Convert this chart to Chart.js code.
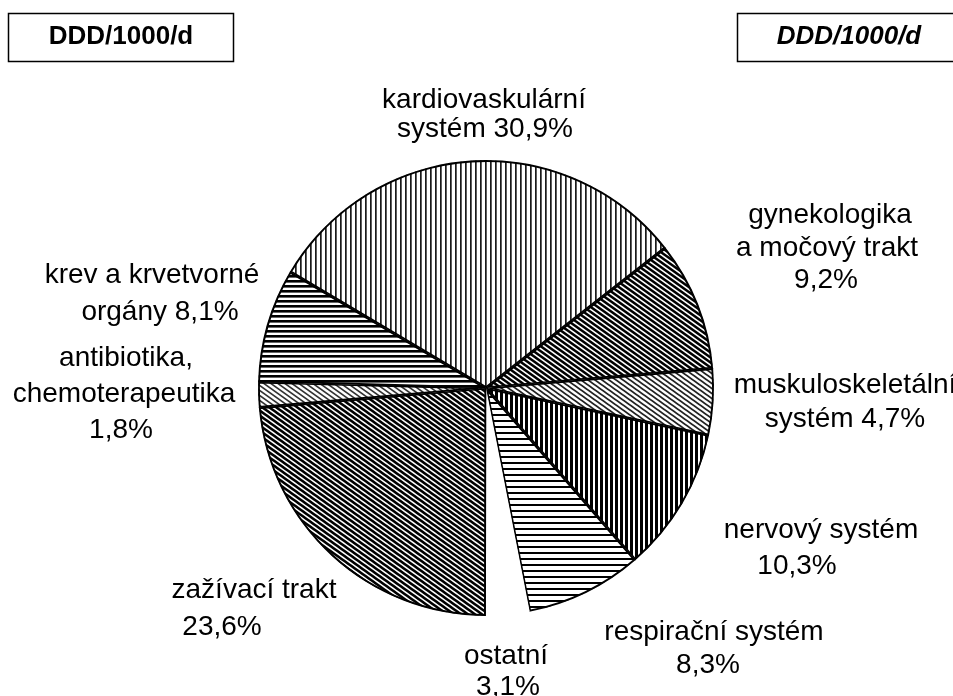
<!DOCTYPE html>
<html>
<head>
<meta charset="utf-8">
<script src="https://cdn.jsdelivr.net/npm/chart.js@4"></script>
<style>
  html, body { margin: 0; padding: 0; background: #fff; }
  #wrap { width: 953px; height: 696px; position: relative; }
</style>
</head>
<body>
<div id="wrap"><canvas id="pie"></canvas></div>
<script>
// data
const categories = [
  "kardiovaskulární systém", "gynekologika a močový trakt", "muskuloskeletální systém",
  "nervový systém", "respirační systém", "ostatní", "zažívací trakt",
  "antibiotika, chemoterapeutika", "krev a krvetvorné orgány"
];
const shares = [30.9, 9.2, 4.7, 10.3, 8.3, 3.1, 23.6, 1.8, 8.1];
const labelLines = [
  ["kardiovaskulární", "systém 30,9%"],
  ["gynekologika", "a močový trakt", "9,2%"],
  ["muskuloskeletální", "systém 4,7%"],
  ["nervový systém", "10,3%"],
  ["respirační systém", "8,3%"],
  ["ostatní", "3,1%"],
  ["zažívací trakt", "23,6%"],
  ["antibiotika,", "chemoterapeutika", "1,8%"],
  ["krev a krvetvorné", "orgány 8,1%"]
];
const boxTitle = "DDD/1000/d";

// where each label line sits (centre x, middle y)
const labelPos = [
  [[484, 100], [485, 129]],
  [[830, 215], [827, 248], [826, 280]],
  [[845, 385], [845, 419]],
  [[821, 530], [797, 566]],
  [[714, 632], [708, 665]],
  [[506, 656], [508, 687]],
  [[254, 590], [222, 627]],
  [[126, 358], [124, 394], [121, 430]],
  [[152, 275], [160, 312]]
];

/* =======================
   PATTERNS
======================= */
function tile(w, h, draw) {
  const c = document.createElement("canvas");
  c.width = w; c.height = h;
  const g = c.getContext("2d");
  g.fillStyle = "#fff";
  g.fillRect(0, 0, w, h);
  draw(g, w, h);
  return g.createPattern(c, "repeat");
}
function vLines(w, lw, col) {
  return tile(w, 10, g => { g.fillStyle = col; g.fillRect(0, 0, lw, 10); });
}
function hLines(h, lw, col) {
  return tile(10, h, g => { g.fillStyle = col; g.fillRect(0, 0, 10, lw); });
}
function diag(w, h, lw, col) {
  return tile(w, h, (g, W, H) => {
    g.strokeStyle = col;
    g.lineWidth = lw;
    for (let k = -1; k <= 1; k++) {
      g.beginPath();
      g.moveTo(k * W - W, -H);
      g.lineTo(k * W + 2 * W, 2 * H);
      g.stroke();
    }
  });
}

const fills = [
  vLines(5, 1.7, "#1a1a1a"),   // kardio
  diag(7, 5, 2.5, "#000"),     // gyn
  diag(7, 5, 1.8, "#222"),     // musk
  vLines(5, 3, "#000"),        // nerv
  hLines(6, 2, "#000"),        // resp
  "#ffffff",                   // ostatni
  diag(7, 5, 2.6, "#000"),     // zazivaci
  diag(7, 5, 1.6, "#333"),     // antibio
  hLines(5, 2.6, "#000")       // krev
];

/* =======================
   OVERLAY: boxes + labels
======================= */
const overlay = {
  id: "overlay",
  afterDraw(chart) {
    const ctx = chart.ctx;
    ctx.save();
    ctx.strokeStyle = "#000";
    ctx.lineWidth = 1.5;
    ctx.strokeRect(8.5, 13.5, 225, 48);
    ctx.strokeRect(737.5, 13.5, 230, 48);
    ctx.fillStyle = "#000";
    ctx.textAlign = "center";
    ctx.textBaseline = "middle";
    ctx.font = "bold 26px 'Liberation Sans', Arial, sans-serif";
    ctx.fillText(boxTitle, 121, 37);
    ctx.font = "italic bold 26px 'Liberation Sans', Arial, sans-serif";
    ctx.fillText(boxTitle, 849, 37);

    ctx.font = "28px 'Liberation Sans', Arial, sans-serif";
    labelLines.forEach((lines, i) => {
      lines.forEach((t, j) => {
        const [x, y] = labelPos[i][j];
        ctx.fillText(t, x, y);
      });
    });
    ctx.restore();
  }
};

new Chart(document.getElementById("pie"), {
  type: "pie",
  data: {
    labels: categories,
    datasets: [{
      data: shares,
      backgroundColor: fills,
      borderColor: "#000",
      borderWidth: shares.map((v, i) => (i === 5 ? 0 : 1.6)),
      borderAlign: "inner"
    }]
  },
  options: {
    responsive: true,
    maintainAspectRatio: false,
    animation: false,
    rotation: -59.3,
    layout: { padding: { left: 258, right: 239, top: 160, bottom: 80 } },
    plugins: {
      legend: { display: false },
      tooltip: { enabled: false }
    }
  },
  plugins: [overlay]
});
</script>
</body>
</html>
